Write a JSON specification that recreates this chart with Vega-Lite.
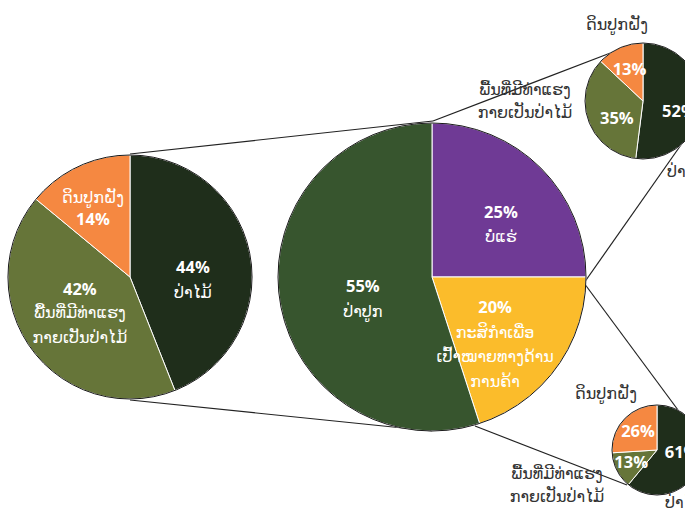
{
  "$schema": "https://vega.github.io/schema/vega-lite/v6.json",
  "width": 685,
  "height": 517,
  "autosize": {"type": "fit", "contains": "padding"},
  "padding": 0,
  "background": "white",
  "config": {"view": {"stroke": null}, "text": {"lineBreak": "\n"}},
  "data": {
    "values": [
      {"pie": "left", "cat": "forest", "order": 1, "value": 0.44, "name": "ປ່າໄມ້"},
      {"pie": "left", "cat": "potential", "order": 2, "value": 0.42, "name": "ພື້ນທີ່ມີທ່າແຮງ\nກາຍເປັນປ່າໄມ້"},
      {"pie": "left", "cat": "cropland", "order": 3, "value": 0.14, "name": "ດິນປູກຝັງ"},
      {"pie": "center", "cat": "mining", "order": 1, "value": 0.25, "name": "ບໍ່ແຮ່"},
      {"pie": "center", "cat": "agri", "order": 2, "value": 0.20, "name": "ກະສິກຳເພື່ອ\nເປົ້າໝາຍທາງດ້ານ\nການຄ້າ"},
      {"pie": "center", "cat": "plantation", "order": 3, "value": 0.55, "name": "ປ່າປູກ"},
      {"pie": "top", "cat": "forest", "order": 1, "value": 0.52, "name": "ປ່າໄມ້"},
      {"pie": "top", "cat": "potential", "order": 2, "value": 0.35, "name": "ພື້ນທີ່ມີທ່າແຮງ\nກາຍເປັນປ່າໄມ້"},
      {"pie": "top", "cat": "cropland", "order": 3, "value": 0.13, "name": "ດິນປູກຝັງ"},
      {"pie": "bottom", "cat": "forest", "order": 1, "value": 0.61, "name": "ປ່າໄມ້"},
      {"pie": "bottom", "cat": "potential", "order": 2, "value": 0.13, "name": "ພື້ນທີ່ມີທ່າແຮງ\nກາຍເປັນປ່າໄມ້"},
      {"pie": "bottom", "cat": "cropland", "order": 3, "value": 0.26, "name": "ດິນປູກຝັງ"}
    ]
  },
  "transform": [
    {"stack": "value", "groupby": ["pie"], "sort": [{"field": "order", "order": "ascending"}], "as": ["t0", "t1"]},
    {"calculate": "(datum.t0 + datum.t1) / 2", "as": "mid"},
    {"calculate": "format(datum.value, '.0%')", "as": "pct"}
  ],
  "layer": [
    {"data": {"values": [{}]}, "mark": {"type": "rule", "stroke": "#222222", "strokeWidth": 1.2}, "encoding": {"x": {"value": 130}, "y": {"value": 154}, "x2": {"value": 433}, "y2": {"value": 121}}},
    {"data": {"values": [{}]}, "mark": {"type": "rule", "stroke": "#222222", "strokeWidth": 1.2}, "encoding": {"x": {"value": 130}, "y": {"value": 400}, "x2": {"value": 432}, "y2": {"value": 431}}},
    {"data": {"values": [{}]}, "mark": {"type": "rule", "stroke": "#222222", "strokeWidth": 1.2}, "encoding": {"x": {"value": 433}, "y": {"value": 121}, "x2": {"value": 613}, "y2": {"value": 52}}},
    {"data": {"values": [{}]}, "mark": {"type": "rule", "stroke": "#222222", "strokeWidth": 1.2}, "encoding": {"x": {"value": 584}, "y": {"value": 283}, "x2": {"value": 683}, "y2": {"value": 142}}},
    {"data": {"values": [{}]}, "mark": {"type": "rule", "stroke": "#222222", "strokeWidth": 1.2}, "encoding": {"x": {"value": 584}, "y": {"value": 283}, "x2": {"value": 678}, "y2": {"value": 410}}},
    {"data": {"values": [{}]}, "mark": {"type": "rule", "stroke": "#222222", "strokeWidth": 1.2}, "encoding": {"x": {"value": 475}, "y": {"value": 426}, "x2": {"value": 627}, "y2": {"value": 485}}},

    {"transform": [{"filter": "datum.pie === 'left'"}],
     "mark": {"type": "arc", "x": 130, "y": 277, "radius": 122, "stroke": "white", "strokeWidth": 1},
     "encoding": {
       "theta": {"field": "t0", "type": "quantitative", "scale": {"domain": [0, 1]}},
       "theta2": {"field": "t1"},
       "color": {"field": "cat", "type": "nominal", "legend": null,
         "scale": {"domain": ["forest", "potential", "cropland", "plantation", "mining", "agri"],
                   "range": ["#1f2e1b", "#667539", "#f58841", "#37552e", "#6f3a95", "#fbbc2b"]}}}},
    {"transform": [{"filter": "datum.pie === 'center'"}],
     "mark": {"type": "arc", "x": 432, "y": 277, "radius": 154, "stroke": "white", "strokeWidth": 1},
     "encoding": {
       "theta": {"field": "t0", "type": "quantitative", "scale": {"domain": [0, 1]}},
       "theta2": {"field": "t1"},
       "color": {"field": "cat", "type": "nominal", "legend": null}}},
    {"transform": [{"filter": "datum.pie === 'top'"}],
     "mark": {"type": "arc", "x": 643, "y": 101, "radius": 58, "stroke": "white", "strokeWidth": 1},
     "encoding": {
       "theta": {"field": "t0", "type": "quantitative", "scale": {"domain": [0, 1]}},
       "theta2": {"field": "t1"},
       "color": {"field": "cat", "type": "nominal", "legend": null}}},
    {"transform": [{"filter": "datum.pie === 'bottom'"}],
     "mark": {"type": "arc", "x": 657, "y": 450, "radius": 45, "stroke": "white", "strokeWidth": 1},
     "encoding": {
       "theta": {"field": "t0", "type": "quantitative", "scale": {"domain": [0, 1]}},
       "theta2": {"field": "t1"},
       "color": {"field": "cat", "type": "nominal", "legend": null}}},

    {"data": {"values": [{}]}, "mark": {"type": "arc", "x": 130, "y": 277, "radius": 122, "theta": 0, "theta2": 6.2832, "fillOpacity": 0, "stroke": "#1a1a1a", "strokeWidth": 1}, "encoding": {}},
    {"data": {"values": [{}]}, "mark": {"type": "arc", "x": 432, "y": 277, "radius": 154, "theta": 0, "theta2": 6.2832, "fillOpacity": 0, "stroke": "#1a1a1a", "strokeWidth": 1}, "encoding": {}},
    {"data": {"values": [{}]}, "mark": {"type": "arc", "x": 643, "y": 101, "radius": 58, "theta": 0, "theta2": 6.2832, "fillOpacity": 0, "stroke": "#1a1a1a", "strokeWidth": 1}, "encoding": {}},
    {"data": {"values": [{}]}, "mark": {"type": "arc", "x": 657, "y": 450, "radius": 45, "theta": 0, "theta2": 6.2832, "fillOpacity": 0, "stroke": "#1a1a1a", "strokeWidth": 1}, "encoding": {}},

    {"transform": [{"filter": "datum.pie === 'left' && datum.cat === 'forest'"}],
     "mark": {"type": "text", "x": 130, "y": 277, "radius": 64, "dy": 3, "font": "Open Sans", "fontWeight": "bold", "fontSize": 16.5, "fill": "white", "align": "center", "baseline": "middle"},
     "encoding": {"theta": {"field": "mid", "type": "quantitative", "scale": {"domain": [0, 1]}}, "text": {"field": "pct"}}},
    {"transform": [{"filter": "datum.pie === 'left' && datum.cat === 'forest'"}],
     "mark": {"type": "text", "x": 130, "y": 277, "radius": 64, "dy": 28, "font": "DejaVu Sans", "fontSize": 16, "fill": "white", "align": "center", "baseline": "middle", "lineHeight": 25},
     "encoding": {"theta": {"field": "mid", "type": "quantitative", "scale": {"domain": [0, 1]}}, "text": {"field": "name"}}},
    {"transform": [{"filter": "datum.pie === 'left' && datum.cat === 'potential'"}],
     "mark": {"type": "text", "x": 130, "y": 277, "radius": 62, "dy": -23.5, "font": "Open Sans", "fontWeight": "bold", "fontSize": 16.5, "fill": "white", "align": "center", "baseline": "middle"},
     "encoding": {"theta": {"field": "mid", "type": "quantitative", "scale": {"domain": [0, 1]}}, "text": {"field": "pct"}}},
    {"transform": [{"filter": "datum.pie === 'left' && datum.cat === 'potential'"}],
     "mark": {"type": "text", "x": 130, "y": 277, "radius": 62, "dy": 0, "font": "DejaVu Sans", "fontSize": 16, "fill": "white", "align": "center", "baseline": "middle", "lineHeight": 25},
     "encoding": {"theta": {"field": "mid", "type": "quantitative", "scale": {"domain": [0, 1]}}, "text": {"field": "name"}}},
    {"transform": [{"filter": "datum.pie === 'left' && datum.cat === 'cropland'"}],
     "mark": {"type": "text", "x": 130, "y": 277, "radius": 87, "dy": 22, "font": "Open Sans", "fontWeight": "bold", "fontSize": 16.5, "fill": "white", "align": "center", "baseline": "middle"},
     "encoding": {"theta": {"field": "mid", "type": "quantitative", "scale": {"domain": [0, 1]}}, "text": {"field": "pct"}}},
    {"transform": [{"filter": "datum.pie === 'left' && datum.cat === 'cropland'"}],
     "mark": {"type": "text", "x": 130, "y": 277, "radius": 87, "dy": 0, "font": "DejaVu Sans", "fontSize": 16, "fill": "white", "align": "center", "baseline": "middle", "lineHeight": 25},
     "encoding": {"theta": {"field": "mid", "type": "quantitative", "scale": {"domain": [0, 1]}}, "text": {"field": "name"}}},

    {"transform": [{"filter": "datum.pie === 'center' && datum.cat === 'mining'"}],
     "mark": {"type": "text", "x": 432, "y": 277, "radius": 94, "dx": 2.5, "dy": 2.5, "font": "Open Sans", "fontWeight": "bold", "fontSize": 16.5, "fill": "white", "align": "center", "baseline": "middle"},
     "encoding": {"theta": {"field": "mid", "type": "quantitative", "scale": {"domain": [0, 1]}}, "text": {"field": "pct"}}},
    {"transform": [{"filter": "datum.pie === 'center' && datum.cat === 'mining'"}],
     "mark": {"type": "text", "x": 432, "y": 277, "radius": 94, "dx": 2.5, "dy": 26.5, "font": "DejaVu Sans", "fontSize": 16, "fill": "white", "align": "center", "baseline": "middle", "lineHeight": 24.5},
     "encoding": {"theta": {"field": "mid", "type": "quantitative", "scale": {"domain": [0, 1]}}, "text": {"field": "name"}}},
    {"transform": [{"filter": "datum.pie === 'center' && datum.cat === 'agri'"}],
     "mark": {"type": "text", "x": 432, "y": 277, "radius": 78, "dy": -15, "font": "Open Sans", "fontWeight": "bold", "fontSize": 16.5, "fill": "white", "align": "center", "baseline": "middle"},
     "encoding": {"theta": {"field": "mid", "type": "quantitative", "scale": {"domain": [0, 1]}}, "text": {"field": "pct"}}},
    {"transform": [{"filter": "datum.pie === 'center' && datum.cat === 'agri'"}],
     "mark": {"type": "text", "x": 432, "y": 277, "radius": 78, "dy": 10, "font": "DejaVu Sans", "fontSize": 16, "fill": "white", "align": "center", "baseline": "middle", "lineHeight": 24.5},
     "encoding": {"theta": {"field": "mid", "type": "quantitative", "scale": {"domain": [0, 1]}}, "text": {"field": "name"}}},
    {"transform": [{"filter": "datum.pie === 'center' && datum.cat === 'plantation'"}],
     "mark": {"type": "text", "x": 432, "y": 277, "radius": 70, "dy": -1, "font": "Open Sans", "fontWeight": "bold", "fontSize": 16.5, "fill": "white", "align": "center", "baseline": "middle"},
     "encoding": {"theta": {"field": "mid", "type": "quantitative", "scale": {"domain": [0, 1]}}, "text": {"field": "pct"}}},
    {"transform": [{"filter": "datum.pie === 'center' && datum.cat === 'plantation'"}],
     "mark": {"type": "text", "x": 432, "y": 277, "radius": 70, "dy": 24, "font": "DejaVu Sans", "fontSize": 16, "fill": "white", "align": "center", "baseline": "middle", "lineHeight": 24.5},
     "encoding": {"theta": {"field": "mid", "type": "quantitative", "scale": {"domain": [0, 1]}}, "text": {"field": "name"}}},

    {"transform": [{"filter": "datum.pie === 'top' && datum.cat === 'forest'"}],
     "mark": {"type": "text", "x": 643, "y": 101, "radius": 36, "dy": 9, "font": "Open Sans", "fontWeight": "bold", "fontSize": 16.5, "fill": "white", "align": "center", "baseline": "middle"},
     "encoding": {"theta": {"field": "mid", "type": "quantitative", "scale": {"domain": [0, 1]}}, "text": {"field": "pct"}}},
    {"transform": [{"filter": "datum.pie === 'top' && datum.cat === 'potential'"}],
     "mark": {"type": "text", "x": 643, "y": 101, "radius": 31, "dx": 3, "dy": 7.5, "font": "Open Sans", "fontWeight": "bold", "fontSize": 16.5, "fill": "white", "align": "center", "baseline": "middle"},
     "encoding": {"theta": {"field": "mid", "type": "quantitative", "scale": {"domain": [0, 1]}}, "text": {"field": "pct"}}},
    {"transform": [{"filter": "datum.pie === 'top' && datum.cat === 'cropland'"}],
     "mark": {"type": "text", "x": 643, "y": 101, "radius": 34, "font": "Open Sans", "fontWeight": "bold", "fontSize": 16.5, "fill": "white", "align": "center", "baseline": "middle"},
     "encoding": {"theta": {"field": "mid", "type": "quantitative", "scale": {"domain": [0, 1]}}, "text": {"field": "pct"}}},
    {"transform": [{"filter": "datum.pie === 'bottom' && datum.cat === 'forest'"}],
     "mark": {"type": "text", "x": 657, "y": 450, "radius": 24, "dx": 2, "dy": -5, "font": "Open Sans", "fontWeight": "bold", "fontSize": 16.5, "fill": "white", "align": "center", "baseline": "middle"},
     "encoding": {"theta": {"field": "mid", "type": "quantitative", "scale": {"domain": [0, 1]}}, "text": {"field": "pct"}}},
    {"transform": [{"filter": "datum.pie === 'bottom' && datum.cat === 'potential'"}],
     "mark": {"type": "text", "x": 657, "y": 450, "radius": 29, "font": "Open Sans", "fontWeight": "bold", "fontSize": 16.5, "fill": "white", "align": "center", "baseline": "middle"},
     "encoding": {"theta": {"field": "mid", "type": "quantitative", "scale": {"domain": [0, 1]}}, "text": {"field": "pct"}}},
    {"transform": [{"filter": "datum.pie === 'bottom' && datum.cat === 'cropland'"}],
     "mark": {"type": "text", "x": 657, "y": 450, "radius": 26, "font": "Open Sans", "fontWeight": "bold", "fontSize": 16.5, "fill": "white", "align": "center", "baseline": "middle"},
     "encoding": {"theta": {"field": "mid", "type": "quantitative", "scale": {"domain": [0, 1]}}, "text": {"field": "pct"}}},

    {"transform": [{"filter": "datum.pie === 'top' && datum.cat === 'cropland'"}],
     "mark": {"type": "text", "x": 617, "y": 25, "font": "DejaVu Sans", "fontSize": 16, "fill": "#333333", "align": "center", "baseline": "middle", "lineHeight": 23},
     "encoding": {"text": {"field": "name"}}},
    {"transform": [{"filter": "datum.pie === 'top' && datum.cat === 'potential'"}],
     "mark": {"type": "text", "x": 525, "y": 90, "font": "DejaVu Sans", "fontSize": 16, "fill": "#333333", "align": "center", "baseline": "middle", "lineHeight": 23},
     "encoding": {"text": {"field": "name"}}},
    {"transform": [{"filter": "datum.pie === 'top' && datum.cat === 'forest'"}],
     "mark": {"type": "text", "x": 667, "y": 172, "font": "DejaVu Sans", "fontSize": 16, "fill": "#333333", "align": "left", "baseline": "middle", "lineHeight": 23},
     "encoding": {"text": {"field": "name"}}},
    {"transform": [{"filter": "datum.pie === 'bottom' && datum.cat === 'cropland'"}],
     "mark": {"type": "text", "x": 606, "y": 394, "font": "DejaVu Sans", "fontSize": 16, "fill": "#333333", "align": "center", "baseline": "middle", "lineHeight": 23},
     "encoding": {"text": {"field": "name"}}},
    {"transform": [{"filter": "datum.pie === 'bottom' && datum.cat === 'potential'"}],
     "mark": {"type": "text", "x": 557, "y": 474, "font": "DejaVu Sans", "fontSize": 16, "fill": "#333333", "align": "center", "baseline": "middle", "lineHeight": 23},
     "encoding": {"text": {"field": "name"}}},
    {"transform": [{"filter": "datum.pie === 'bottom' && datum.cat === 'forest'"}],
     "mark": {"type": "text", "x": 665, "y": 503, "font": "DejaVu Sans", "fontSize": 16, "fill": "#333333", "align": "left", "baseline": "middle", "lineHeight": 23},
     "encoding": {"text": {"field": "name"}}}
  ]
}
